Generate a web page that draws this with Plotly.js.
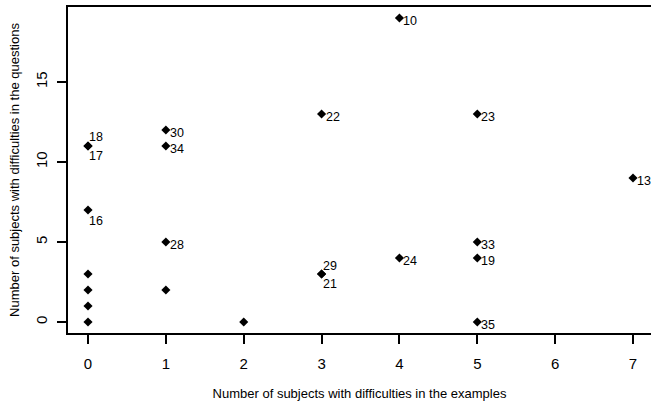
<!DOCTYPE html>
<html>
<head>
<meta charset="utf-8">
<script src="https://cdn.plot.ly/plotly-3.0.1.min.js"></script>
<style>html,body{margin:0;padding:0;background:#fff;}#chart{width:651px;height:405px;}</style>
</head>
<body>
<div id="chart"></div>
<script>
// Data: subjects' difficulty counts
var examples  = [4, 3, 5, 7, 0, 0, 1, 1, 0, 1, 5, 5, 4, 3, 3, 5, 0, 0, 0, 0, 1, 2];
var questions = [19, 13, 13, 9, 11, 11, 12, 11, 7, 5, 5, 4, 4, 3, 3, 0, 3, 2, 1, 0, 2, 0];
var labels    = ["10", "22", "23", "13", "18", "17", "30", "34", "16", "28", "33", "19", "24", "29", "21", "35", "", "", "", "", "", ""];
var xTicks = [0, 1, 2, 3, 4, 5, 6, 7];
var yTicks = [0, 5, 10, 15];

// label placement (style only): [xshift, yshift] in px
var placement = {"18": [0, 9], "17": [0, -10], "16": [0, -11], "29": [0, 8], "21": [0, -10]};
var defaultShift = [3, -3];

var fontFamily = "Liberation Sans, Arial, sans-serif";

var annotations = [];
labels.forEach(function (l, i) {
  if (!l) return;
  var s = placement[l] || defaultShift;
  annotations.push({
    x: examples[i], y: questions[i], xref: "x", yref: "y",
    text: l, showarrow: false, xanchor: "left", yanchor: "middle",
    xshift: s[0], yshift: s[1], borderpad: 0,
    font: {family: fontFamily, size: 12.5, color: "#000"}
  });
});

var trace = {
  type: "scatter",
  mode: "markers",
  x: examples,
  y: questions,
  text: labels,
  marker: {symbol: "diamond", size: 7, color: "#000"},
  cliponaxis: false,
  hoverinfo: "x+y+text"
};

var layout = {
  width: 651,
  height: 405,
  margin: {l: 68, r: 0, t: 7, b: 72},
  paper_bgcolor: "#fff",
  plot_bgcolor: "#fff",
  showlegend: false,
  font: {family: fontFamily, size: 14, color: "#000"},
  annotations: annotations,
  xaxis: {
    range: [-0.257, 7.231],
    tickvals: xTicks,
    ticktext: xTicks.map(String),
    showgrid: false,
    zeroline: false,
    showline: true,
    mirror: true,
    linecolor: "#000",
    linewidth: 2,
    ticks: "outside",
    ticklen: 9,
    tickwidth: 2,
    tickcolor: "#000",
    ticklabelstandoff: 7,
    tickfont: {size: 15},
    title: {text: "Number of subjects with difficulties in the examples", font: {size: 13}, standoff: 18}
  },
  yaxis: {
    range: [-0.6875, 19.6875],
    tickvals: yTicks,
    ticktext: yTicks.map(String),
    tickangle: -90,
    showgrid: false,
    zeroline: false,
    showline: true,
    mirror: false,
    linecolor: "#000",
    linewidth: 2,
    ticks: "outside",
    ticklen: 9,
    tickwidth: 2,
    tickcolor: "#000",
    ticklabelstandoff: 4,
    tickfont: {size: 15},
    title: {text: "Number of subjects with difficulties in the questions", font: {size: 13}, standoff: 10}
  }
};

Plotly.newPlot("chart", [trace], layout, {staticPlot: true, displayModeBar: false});
</script>
</body>
</html>
